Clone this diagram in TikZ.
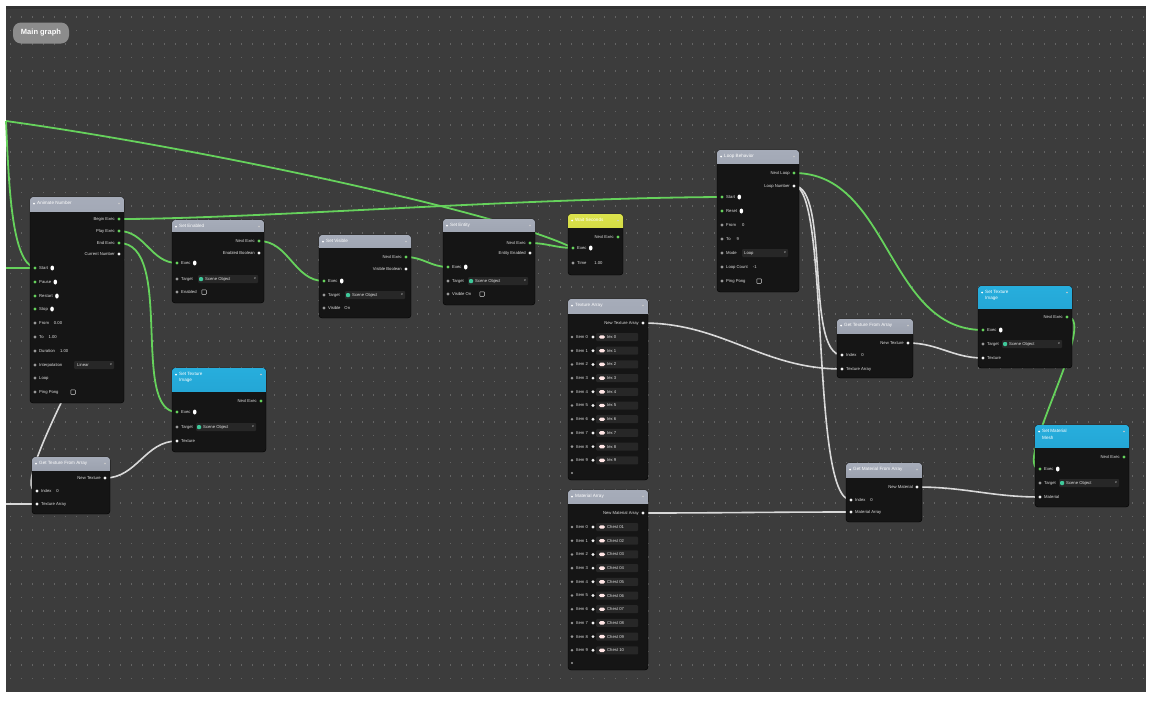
\documentclass[tikz,border=0pt]{standalone}
\usepackage{fontspec}
\setmainfont{Liberation Sans}
\usetikzlibrary{shapes.geometric}
\pgfdeclarelayer{back}
\pgfdeclarelayer{wires}
\pgfsetlayers{back,wires,main}
\definecolor{bgc}{HTML}{3C3C3C}
\definecolor{dotc}{HTML}{646464}
\definecolor{nodebg}{HTML}{151515}
\definecolor{wgreen}{HTML}{66D25C}
\definecolor{wwhite}{HTML}{D9D9D9}
\definecolor{pgrey}{HTML}{9A9A9A}
\definecolor{pwhite}{HTML}{F2F2F2}
\definecolor{fieldc}{HTML}{272727}
\definecolor{teal}{HTML}{3FC89A}
\definecolor{hg1}{HTML}{A6ACB9}
\definecolor{hg2}{HTML}{7A808E}
\definecolor{hb1}{HTML}{27AEDD}
\definecolor{hb2}{HTML}{1C93C2}
\definecolor{hy1}{HTML}{DCE34C}
\definecolor{hy2}{HTML}{B8C02E}
\tikzset{
  nbody/.style={fill=nodebg, draw=black, line width=0.4pt, rounded corners=3pt, inner sep=0pt, outer sep=0pt},
  hgrey/.style={top color=hg1, bottom color=hg2},
  hblue/.style={top color=hb1, bottom color=hb2},
  hyell/.style={top color=hy1, bottom color=hy2},
  port/.style={circle, fill=#1, inner sep=0pt, minimum size=3.4pt},
  lbl/.style={font=\fontsize{4.2}{5}\selectfont, text=white!88!black, inner sep=0pt},
  ttl/.style={font=\fontsize{4.6}{5.2}\selectfont, text=white, inner sep=0pt, align=left},
  field/.style={fill=fieldc, inner sep=0pt, minimum height=8pt, rounded corners=1pt},
  oval/.style={ellipse, fill=white, inner sep=0pt, minimum width=3.6pt, minimum height=5pt},
  chk/.style={draw=white!85!black, line width=0.5pt, inner sep=0pt, minimum size=4.5pt, rounded corners=0.6pt},
  icon/.style={fill=teal, inner sep=0pt, minimum size=4pt, rounded corners=1pt},
  pillv/.style={fill=white!90!red, inner sep=0pt, minimum width=6pt, minimum height=3.4pt, rounded corners=1.5pt},
  gw/.style={draw=wgreen, line width=1.8pt},
  ww/.style={draw=wwhite, line width=1.6pt},
  dotrow/.style={draw=dotc, line width=1.2pt, dash pattern=on 1.2pt off 9.8pt},
}
% name, x1, y1, x2, y2, header bottom, header style, title
\newcommand\gnode[8]{%
  \node[nbody, anchor=north west, minimum width={(#4-#2)*1pt}, minimum height={(#5-#3)*1pt}] (#1) at (#2,#3) {};
  \begin{scope}
    \clip (#2,#3) rectangle (#4,#6);
    \fill[#7, rounded corners=3pt] (#2,#3) rectangle (#4,#5);
  \end{scope}
  \node[circle, fill=white, inner sep=0pt, minimum size=2pt] (#1-d) at ({#2+4},{#3+6.5}) {};
  \node[ttl, anchor=north west] (#1-t) at ({#2+7},{#3+4.3}) {#8};
  \node[circle, fill=white!80!black, inner sep=0pt, minimum size=1.8pt] (#1-c) at ({#4-5},{#3+6.5}) {};
}
% output port: name, x, y, label, colour
\newcommand\pout[5]{%
  \node[port=#5] (#1) at (#2,#3) {};
  \node[lbl, anchor=east] (#1-l) at ({#2-4},#3) {#4};
}
% input port
\newcommand\pin[5]{%
  \node[port=#5] (#1) at (#2,#3) {};
  \node[lbl, anchor=west] (#1-l) at ({#2+4},#3) {#4};
}
% exec input with white oval
\newcommand\pinx[4]{%
  \pin{#1}{#2}{#3}{#4}{wgreen}
  \node[oval] (#1-o) at ([xshift=4pt]#1-l.east) {};
}
% target field: name, x, y, text, width
\newcommand\tfield[5]{%
  \node[field, anchor=west, minimum width=#5pt] (#1) at (#2,#3) {};
  \node[icon] (#1-i) at ({#2+3},#3) {};
  \node[lbl, anchor=west] (#1-t) at ({#2+7},#3) {#4};
  \node[lbl, anchor=east] (#1-a) at ({#2+#5-2},#3) {\fontsize{3.5}{4}\selectfont v};
}
% array row: name, node x1, y, label, value
\newcommand\arow[5]{%
  \node[port=pgrey, minimum size=2.8pt] (#1) at ({#2+4},#3) {};
  \node[lbl, anchor=west] (#1-l) at ({#2+8},#3) {#4};
  \node[port=pwhite, minimum size=3.2pt] (#1-p) at ({#2+25},#3) {};
  \node[field, anchor=west, minimum width=42pt] (#1-f) at ({#2+28},#3) {};
  \node[pillv] (#1-v) at ({#2+34},#3) {};
  \node[lbl, anchor=west] (#1-x) at ({#2+39},#3) {#5};
}
\begin{document}
\begin{tikzpicture}[x=1pt,y=-1pt]
\useasboundingbox (0,0) rectangle (1149,710);
\begin{pgfonlayer}{back}
  \fill[white] (0,0) rectangle (1149,710);
  \fill[bgc] (6,6) rectangle (1146,692);
  \fill[black!80] (6,6) rectangle (1146,9);
  \foreach \y in {17,30.5,...,690} \draw[dotrow] (10,\y) -- (1146,\y);
\end{pgfonlayer}

\node[fill=black!45, rounded corners=8pt, minimum width=56pt, minimum height=21pt, inner sep=0pt,
      font=\bfseries\fontsize{7.5}{8}\selectfont, text=white] (mg) at (41,33) {Main graph};

% ---------- Animate node ----------
\gnode{tw}{30}{197}{124}{403}{211}{hgrey}{Animate Number}
\pout{tw-o1}{119}{219}{Begin Exec}{wgreen}
\pout{tw-o2}{119}{231}{Play Exec}{wgreen}
\pout{tw-o3}{119}{243}{End Exec}{wgreen}
\pout{tw-o4}{119}{254}{Current Number}{pwhite}
\pinx{tw-i1}{35}{268}{Start}
\pinx{tw-i2}{35}{282}{Pause}
\pinx{tw-i3}{35}{296}{Restart}
\pinx{tw-i4}{35}{309}{Stop}
\pin{tw-i5}{35}{323}{From\hspace{5pt}0.00}{pgrey}
\pin{tw-i6}{35}{337}{To\hspace{5pt}1.00}{pgrey}
\pin{tw-i7}{35}{351}{Duration\hspace{5pt}1.00}{pgrey}
\pin{tw-i8}{35}{365}{Interpolation}{pgrey}
\node[field, anchor=west, minimum width=40pt] (tw-f8) at (74,365) {};
\node[lbl, anchor=west] (tw-f8t) at (77,365) {Linear};
\node[lbl, anchor=east] (tw-f8a) at (112,365) {\fontsize{3.5}{4}\selectfont v};
\pin{tw-i9}{35}{378}{Loop}{pgrey}
\pin{tw-i10}{35}{392}{Ping Pong}{pgrey}
\node[chk] (tw-ck) at (73,392) {};

% ---------- Set Enabled ----------
\gnode{se}{172}{220}{264}{303}{231}{hgrey}{Set Enabled}
\pout{se-o1}{259}{241}{Next Exec}{wgreen}
\pout{se-o2}{259}{253}{Enabled Boolean}{pwhite}
\pinx{se-i1}{177}{263}{Exec}
\pin{se-i2}{177}{279}{Target}{pgrey}
\tfield{se-tf}{198}{279}{Scene Object}{60}
\pin{se-i3}{177}{292}{Enabled}{pgrey}
\node[chk] (se-ck) at (204,292) {};

% ---------- Set Visible ----------
\gnode{sv}{319}{235}{411}{318}{247}{hgrey}{Set Visible}
\pout{sv-o1}{406}{257}{Next Exec}{wgreen}
\pout{sv-o2}{406}{269}{Visible Boolean}{pwhite}
\pinx{sv-i1}{324}{281}{Exec}
\pin{sv-i2}{324}{295}{Target}{pgrey}
\tfield{sv-tf}{345}{295}{Scene Object}{60}
\pin{sv-i3}{324}{308}{Visible\hspace{4pt}On}{pgrey}

% ---------- Set Entity ----------
\gnode{sx}{443}{219}{535}{305}{231}{hgrey}{Set Entity}
\pout{sx-o1}{530}{243}{Next Exec}{wgreen}
\pout{sx-o2}{530}{253}{Entity Enabled}{pwhite}
\pinx{sx-i1}{448}{267}{Exec}
\pin{sx-i2}{448}{281}{Target}{pgrey}
\tfield{sx-tf}{468}{281}{Scene Object}{60}
\pin{sx-i3}{448}{294}{Visible On}{pgrey}
\node[chk] (sx-ck) at (482,294) {};

% ---------- Wait (yellow) ----------
\gnode{ws}{568}{214}{623}{275}{227}{hyell}{Wait Seconds}
\pout{ws-o1}{618}{237}{Next Exec}{wgreen}
\pinx{ws-i1}{573}{248}{Exec}
\pin{ws-i2}{573}{263}{Time\hspace{8pt}1.00}{pgrey}

% ---------- Loop ----------
\gnode{lp}{717}{150}{799}{292}{163}{hgrey}{Loop Behavior}
\pout{lp-o1}{794}{173}{Next Loop}{wgreen}
\pout{lp-o2}{794}{186}{Loop Number}{pwhite}
\pinx{lp-i1}{722}{197}{Start}
\pinx{lp-i2}{722}{211}{Reset}
\pin{lp-i3}{722}{225}{From\hspace{6pt}0}{pgrey}
\pin{lp-i4}{722}{239}{To\hspace{6pt}9}{pgrey}
\pin{lp-i5}{722}{253}{Mode}{pgrey}
\node[field, anchor=west, minimum width=46pt] (lp-f5) at (742,253) {};
\node[lbl, anchor=west] (lp-f5t) at (744,253) {Loop};
\node[lbl, anchor=east] (lp-f5a) at (786,253) {\fontsize{3.5}{4}\selectfont v};
\pin{lp-i6}{722}{267}{Loop Count\hspace{5pt}-1}{pgrey}
\pin{lp-i7}{722}{281}{Ping Pong}{pgrey}
\node[chk] (lp-ck) at (759,281) {};

% ---------- Texture array ----------
\gnode{ta}{568}{299}{648}{480}{313}{hgrey}{Texture Array}
\pout{ta-o1}{643}{323}{New Texture Array}{pwhite}
\foreach \k in {0,...,9}{%
  \pgfmathsetmacro\yy{337+13.7*\k}
  \arow{ta-r\k}{568}{\yy}{Item \k}{tex \k}
}
\node[port=pgrey, minimum size=2.4pt] (ta-add) at (572,473) {};

% ---------- Material array ----------
\gnode{ma}{568}{490}{648}{670}{503}{hgrey}{Material Array}
\pout{ma-o1}{643}{513}{New Material Array}{pwhite}
\foreach \k in {0,...,9}{%
  \pgfmathsetmacro\yy{527+13.7*\k}
  \pgfmathtruncatemacro\nn{\k+1}
  \arow{ma-r\k}{568}{\yy}{Item \k}{Chest \ifnum\nn<10 0\fi\nn}
}
\node[port=pgrey, minimum size=2.4pt] (ma-add) at (572,663) {};

% ---------- Get texture ----------
\gnode{gt}{837}{319}{913}{378}{333}{hgrey}{Get Texture From Array}
\pout{gt-o1}{908}{343}{New Texture}{pwhite}
\pin{gt-i1}{842}{355}{Index\hspace{5pt}0}{pwhite}
\pin{gt-i2}{842}{369}{Texture Array}{pwhite}

% ---------- Get material ----------
\gnode{gm}{846}{463}{922}{522}{477}{hgrey}{Get Material From Array}
\pout{gm-o1}{917}{487}{New Material}{pwhite}
\pin{gm-i1}{851}{500}{Index\hspace{5pt}0}{pwhite}
\pin{gm-i2}{851}{512}{Material Array}{pwhite}

% ---------- Set Texture (blue, right) ----------
\gnode{st}{978}{286}{1072}{368}{308}{hblue}{Set Texture\\[1pt]Image}
\pout{st-o1}{1067}{317}{Next Exec}{wgreen}
\pinx{st-i1}{983}{330}{Exec}
\pin{st-i2}{983}{344}{Target}{pgrey}
\tfield{st-tf}{1002}{344}{Scene Object}{60}
\pin{st-i3}{983}{358}{Texture}{pwhite}

% ---------- Set Material (blue) ----------
\gnode{sm}{1035}{425}{1129}{507}{447}{hblue}{Set Material\\[1pt]Mesh}
\pout{sm-o1}{1124}{457}{Next Exec}{wgreen}
\pinx{sm-i1}{1040}{469}{Exec}
\pin{sm-i2}{1040}{483}{Target}{pgrey}
\tfield{sm-tf}{1059}{483}{Scene Object}{60}
\pin{sm-i3}{1040}{497}{Material}{pwhite}

% ---------- Get texture (left) ----------
\gnode{gl}{32}{457}{110}{514}{470}{hgrey}{Get Texture From Array}
\pout{gl-o1}{105}{478}{New Texture}{pwhite}
\pin{gl-i1}{37}{491}{Index\hspace{5pt}0}{pwhite}
\pin{gl-i2}{37}{504}{Texture Array}{pwhite}

% ---------- Set Texture (blue, left) ----------
\gnode{sl}{172}{368}{266}{452}{391}{hblue}{Set Texture\\[1pt]Image}
\pout{sl-o1}{261}{401}{Next Exec}{wgreen}
\pinx{sl-i1}{177}{412}{Exec}
\pin{sl-i2}{177}{427}{Target}{pgrey}
\tfield{sl-tf}{196}{427}{Scene Object}{60}
\pin{sl-i3}{177}{441}{Texture}{pwhite}

% ---------- free ends ----------
\coordinate (e0) at (6,121);
\coordinate (e1) at (6,268);
\coordinate (e2) at (6,504);

\begin{pgfonlayer}{wires}
  % exec wires
  \draw[gw] (e0) .. controls (200,148) and (500,212) .. (ws-i1.center);
  \draw[gw] (e0) .. controls (9,190) and (12,262) .. (tw-i1.center);
  \draw[gw] (e1) -- (tw-i1.center);
  \draw[gw] (tw-o1.center) .. controls (250,219) and (520,198) .. (lp-i1.center);
  \draw[gw] (tw-o2.center) to[out=0,in=180] (se-i1.center);
  \draw[gw] (tw-o3.center) .. controls (175,243) and (130,412) .. (sl-i1.center);
  \draw[gw] (se-o1.center) to[out=0,in=180] (sv-i1.center);
  \draw[gw] (sv-o1.center) to[out=0,in=180] (sx-i1.center);
  \draw[gw] (sx-o1.center) to[out=0,in=180] (ws-i1.center);
  \draw[gw] (lp-o1.center) to[out=0,in=180] (st-i1.center);
  \draw[gw] (st-o1.center) .. controls (1100,317) and (1010,469) .. (sm-i1.center);
  % data wires
  \draw[ww] (tw-o4.center) .. controls (150,254) and (0,491) .. (gl-i1.center);
  \draw[ww] (e2) -- (gl-i2.center);
  \draw[ww] (gl-o1.center) to[out=0,in=180] (sl-i3.center);
  \draw[ww] (lp-o2.center) .. controls (830,186) and (805,355) .. (gt-i1.center);
  \draw[ww] (lp-o2.center) .. controls (830,186) and (810,500) .. (gm-i1.center);
  \draw[ww] (ta-o1.center) to[out=0,in=180] (gt-i2.center);
  \draw[ww] (ma-o1.center) to[out=0,in=180] (gm-i2.center);
  \draw[ww] (gt-o1.center) to[out=0,in=180] (st-i3.center);
  \draw[ww] (gm-o1.center) to[out=0,in=180] (sm-i3.center);
\end{pgfonlayer}
\end{tikzpicture}
\end{document}
